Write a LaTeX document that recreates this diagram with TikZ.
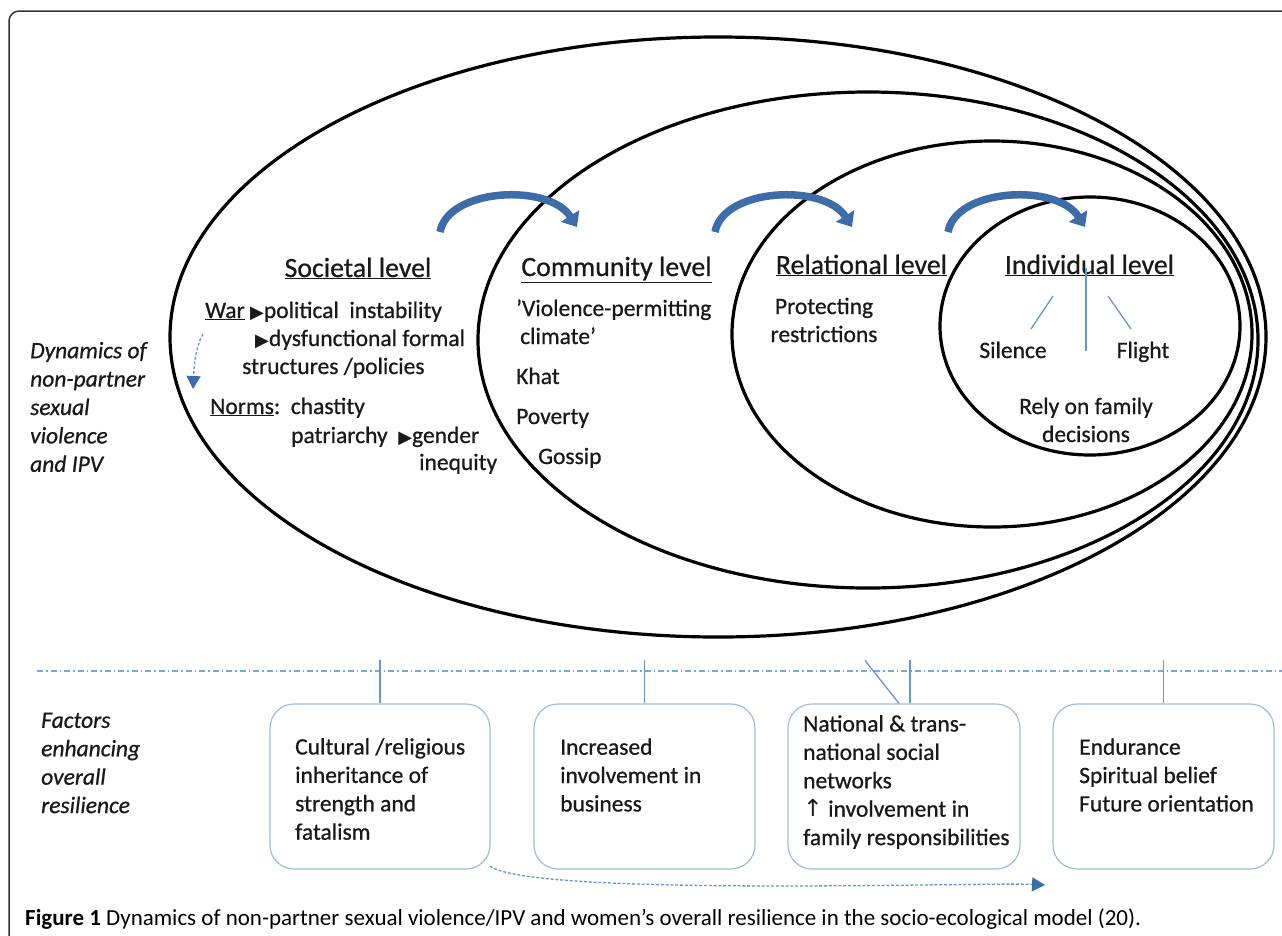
\documentclass[tikz,border=0pt]{standalone}
\usepackage{fontspec}
\setmainfont{Carlito}
\newfontfamily\dfont{Carlito}[FakeBold=0.7]
\newfontfamily\symfont{DejaVu Sans}
\usetikzlibrary{arrows.meta}
\definecolor{arrowblue}{RGB}{62,108,168}
\definecolor{lineblue}{RGB}{105,148,210}
\definecolor{boxblue}{RGB}{160,186,226}
\definecolor{dashblue}{RGB}{125,165,220}
\definecolor{framegray}{RGB}{50,50,50}
\newcommand\mytri{{\symfont\fontsize{18pt}{18pt}\selectfont ▶}}
\newcommand\myup{{\symfont ↑}}
\begin{document}
\begin{tikzpicture}[x=1pt,y=-1pt,
  body/.style={font=\dfont\fontsize{23.5pt}{28.4pt}\selectfont, inner sep=0pt, text=black!90},
  bodyl/.style={body, anchor=base west},
  bodyc/.style={body, anchor=base},
  head/.style={font=\dfont\fontsize{27.8pt}{32pt}\selectfont, inner sep=0pt, anchor=base, text=black!90},
  ring/.style={line width=3.2pt, black},
  bigarrow/.style={draw=arrowblue, line width=7.5pt, -{Triangle[length=13pt,width=21pt]}},
  dasharrow/.style={draw=lineblue, line width=1.3pt, dash pattern=on 3pt off 1.8pt, -{Triangle[length=13pt,width=14pt,color=arrowblue]}},
  tick/.style={draw=lineblue, line width=1.3pt},
  box/.style={draw=boxblue, line width=1.2pt, rounded corners=24pt, inner sep=0pt, minimum height=165pt},
  dashdot/.style={draw=dashblue, line width=1.4pt, dash pattern=on 6pt off 3pt on 1.5pt off 3pt},
  frame/.style={draw=framegray, line width=1.5pt, rounded corners=10pt}
]
\useasboundingbox (0,0) rectangle (1282,935);
% frame
\coordinate (fa) at (9,960);
\coordinate (fb) at (9,11);
\coordinate (fc) at (1300,11);
\draw[frame] (fa) -- (fb) -- (fc);

% ellipses
\draw[ring] (718,337) ellipse [x radius=548pt, y radius=300pt];
\draw[ring] (868,340) ellipse [x radius=390pt, y radius=248pt];
\draw[ring] (992,334) ellipse [x radius=260pt, y radius=193pt];
\draw[ring] (1090,326) ellipse [x radius=150pt, y radius=129pt];

% big blue arrows
\coordinate (a1s) at (440,232); \coordinate (a1e) at (577,227);
\coordinate (a2s) at (715,232); \coordinate (a2e) at (852,227);
\coordinate (a3s) at (948,232); \coordinate (a3e) at (1085,227);
\draw[bigarrow] (a1s) .. controls +(8,-44) and +(-28,-44) .. (a1e);
\draw[bigarrow] (a2s) .. controls +(8,-44) and +(-28,-44) .. (a2e);
\draw[bigarrow] (a3s) .. controls +(8,-44) and +(-28,-44) .. (a3e);

% headings
\node[head] (soc) at (358,277) {\underline{Societal level}};
\node[head] (com) at (616.5,276) {\underline{Community level}};
\node[head] (rel) at (861.5,274) {\underline{Relational level}};
\node[head] (ind) at (1089.5,274) {\underline{Individual level}};

% societal
\node[bodyl] (s1) at (205,318) {\underline{War} \mytri political\ \ instability};
\node[bodyl] (s2) at (255,346) {\mytri dysfunctional formal};
\node[bodyl] (s3) at (242,374) {structures /policies};
\node[bodyl] (s4) at (210,414) {\underline{Norms}:\ \ chastity};
\node[bodyl] (s5) at (291,443) {patriarchy\ \ \mytri gender};
\node[bodyl] (s6) at (419,470) {inequity};
\coordinate (w1) at (203,334);
\coordinate (w2) at (193,389);
\draw[dasharrow] (w1) .. controls (195,348) and (194,368) .. (w2);

% community
\node[bodyl] (c1) at (516,316) {’Violence-permitting};
\node[bodyl] (c2) at (520,344) {climate’};
\node[bodyl] (c3) at (516,384) {Khat};
\node[bodyl] (c4) at (516,424) {Poverty};
\node[bodyl] (c5) at (538,464) {Gossip};

% relational
\node[bodyc] (r1) at (824,314) {Protecting};
\node[bodyc] (r2) at (824,342) {restrictions};

% individual
\node[bodyc] (i1) at (1013,358) {Silence};
\node[bodyc] (i2) at (1143,358) {Flight};
\node[bodyc] (i3) at (1086,414) {Rely on family};
\node[bodyc] (i4) at (1086,442) {decisions};
\coordinate (v1) at (1086,268); \coordinate (v2) at (1086,351);
\coordinate (l1) at (1053,296); \coordinate (l2) at (1031,329);
\coordinate (q1) at (1108,296); \coordinate (q2) at (1131,329);
\draw[tick] (v1) -- (v2);
\draw[tick] (l1) -- (l2);
\draw[tick] (q1) -- (q2);

% left labels
\node[body, anchor=west, align=left, font=\dfont\fontsize{23.5pt}{28.4pt}\selectfont\itshape] (dyn) at (30,407)
  {Dynamics of\\non-partner\\sexual\\violence\\and IPV};
\node[body, anchor=west, align=left, font=\dfont\fontsize{23.5pt}{28.4pt}\selectfont\itshape] (fac) at (41,763)
  {Factors\\enhancing\\overall\\resilience};

% separator
\coordinate (dl) at (37,671);
\coordinate (dr) at (1282,671);
\draw[dashdot] (dl) -- (dr);

% boxes
\node[box, minimum width=220pt] (b1) at (380,786.5) {};
\node[box, minimum width=221pt] (b2) at (644.5,786.5) {};
\node[box, minimum width=232pt] (b3) at (904,786.5) {};
\node[box, minimum width=221pt] (b4) at (1163.5,786.5) {};

\draw[tick] (b1.north) -- ++(0,-43);
\draw[tick] (b2.north) -- ++(0,-43);
\draw[tick] ([xshift=6pt]b3.north) -- ++(0,-43);
\draw[tick] ([xshift=-5pt]b3.north) -- ++(-34,-43);
\draw[tick] (b4.north) -- ++(0,-43);

\node[body, anchor=west, align=left] (t1) at (295,789)
  {Cultural /religious\\inheritance of\\strength and\\fatalism};
\node[body, anchor=west, align=left] (t2) at (560,775)
  {Increased\\involvement in\\business};
\node[body, anchor=west, align=left] (t3) at (803,782)
  {National \& trans-\\national social\\networks\\\myup\ involvement in\\family responsibilities};
\node[body, anchor=west, align=left] (t4) at (1079,775)
  {Endurance\\Spiritual belief\\Future orientation};

\coordinate (d1) at (490,866);
\coordinate (d2) at (1045,885);
\draw[dasharrow] (d1) .. controls (530,897) and (985,882) .. (d2);

% caption
\node[inner sep=0pt, anchor=base west, font=\fontsize{23pt}{28pt}\selectfont] (cap) at (25,925)
  {\textbf{Figure 1} Dynamics of non-partner sexual violence/IPV and women's overall resilience in the socio-ecological model (20).};
\end{tikzpicture}
\end{document}
